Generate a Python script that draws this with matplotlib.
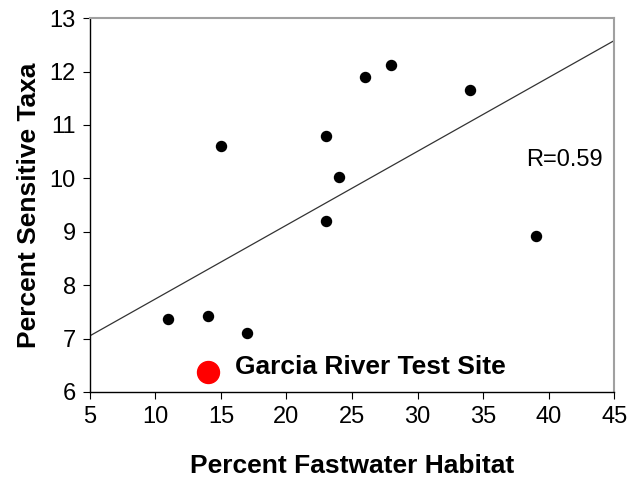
import numpy as np
import matplotlib.pyplot as plt

plt.rcParams['font.family'] = ['Liberation Sans', 'DejaVu Sans']

# site data
fastwater = [11, 14, 15, 17, 23, 23, 24, 26, 28, 34, 39]
sensitive = [7.37, 7.43, 10.6, 7.1, 10.8, 9.2, 10.03, 11.9, 12.12, 11.65, 8.92]

# test site
test_x = [14]
test_y = [6.38]

# regression line end points
fit_x = [5, 45]
fit_y = [7.05, 12.58]

xticks = np.arange(5, 46, 5)
yticks = np.arange(6, 14, 1)

fig = plt.figure(figsize=(6.28, 4.78), dpi=100)
ax = fig.add_axes([0.143, 0.18, 0.835, 0.782])

ax.plot(fit_x, fit_y, color='#333333', linewidth=0.9)
ax.scatter(fastwater, sensitive, s=52, color='black', zorder=3)
ax.scatter(test_x, test_y, s=250, color='#ff0000', zorder=3)

ax.text(16.1, 6.47, 'Garcia River Test Site', fontsize=19, fontweight='bold',
        va='center', ha='left')
ax.text(38.3, 10.35, 'R=0.59', fontsize=17, va='center', ha='left')

ax.set_xlim(5, 45)
ax.set_ylim(6, 13)
ax.set_xticks(xticks)
ax.set_yticks(yticks)
ax.tick_params(labelsize=17, length=5, width=0.8, direction='out', pad=5)

for side in ['top', 'right']:
    ax.spines[side].set_color('#a0a0a0')
    ax.spines[side].set_linewidth(1.5)
for side in ['left', 'bottom']:
    ax.spines[side].set_color('black')
    ax.spines[side].set_linewidth(1.0)

ax.set_xlabel('Percent Fastwater Habitat', fontsize=19, fontweight='bold', labelpad=19)
ax.set_ylabel('Percent Sensitive Taxa', fontsize=19, fontweight='bold', labelpad=6)

fig.savefig('out.png', dpi=100)
